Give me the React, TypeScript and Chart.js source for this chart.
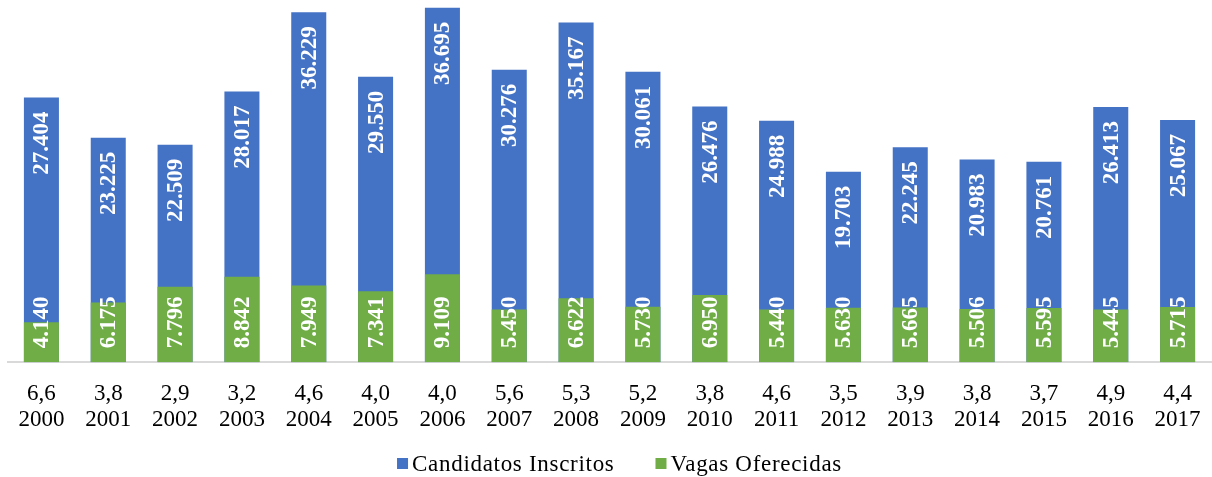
import React, { useEffect, useRef } from "react";
import { Chart, registerables } from "chart.js";

Chart.register(...registerables);

const years = ["2000", "2001", "2002", "2003", "2004", "2005", "2006", "2007", "2008", "2009", "2010", "2011", "2012", "2013", "2014", "2015", "2016", "2017"];
const ratios = ["6,6", "3,8", "2,9", "3,2", "4,6", "4,0", "4,0", "5,6", "5,3", "5,2", "3,8", "4,6", "3,5", "3,9", "3,8", "3,7", "4,9", "4,4"];
const candidatos = [27404, 23225, 22509, 28017, 36229, 29550, 36695, 30276, 35167, 30061, 26476, 24988, 19703, 22245, 20983, 20761, 26413, 25067];
const vagas = [4140, 6175, 7796, 8842, 7949, 7341, 9109, 5450, 6622, 5730, 6950, 5440, 5630, 5665, 5506, 5595, 5445, 5715];
const seriesNames = ["Candidatos Inscritos", "Vagas Oferecidas"];
const seriesColors = ["#4472C4", "#70AD47"];

const SERIF = "'Liberation Serif', 'Times New Roman', serif";

const fmt = (n: number) => String(n).replace(/\B(?=(\d{3})+(?!\d))/g, ".");

const barLabels = {
  id: "barLabels",
  afterDatasetsDraw(chart: any) {
    const ctx = chart.ctx;
    ctx.save();
    ctx.font = `bold 23px ${SERIF}`;
    ctx.fillStyle = "#ffffff";
    ctx.textBaseline = "middle";
    chart.data.datasets.forEach((ds: any, di: number) => {
      const meta = chart.getDatasetMeta(di);
      meta.data.forEach((el: any, i: number) => {
        const { x, y, base } = el.getProps(["x", "y", "base"], true);
        ctx.save();
        if (di === 0) {
          ctx.translate(x + 1, y + 14);
          ctx.rotate(-Math.PI / 2);
          ctx.textAlign = "right";
        } else {
          ctx.translate(x + 1, base - 14);
          ctx.rotate(-Math.PI / 2);
          ctx.textAlign = "left";
        }
        ctx.fillText(fmt(ds.data[i]), 0, 0);
        ctx.restore();
      });
    });
    ctx.restore();
  },
};

const legendPlugin = {
  id: "bottomLegend",
  afterDraw(chart: any) {
    const ctx = chart.ctx;
    ctx.save();
    ctx.font = `23px ${SERIF}`;
    try { (ctx as any).letterSpacing = "0.7px"; } catch (e) {}
    ctx.textBaseline = "middle";
    ctx.textAlign = "left";
    const box = 11;
    const gapText = 4;
    const gapItem = 41;
    const widths = seriesNames.map((n) => ctx.measureText(n).width);
    const total = widths.reduce((a, w) => a + box + gapText + w, 0) + gapItem * (seriesNames.length - 1);
    const centerX = (chart.chartArea.left + chart.chartArea.right) / 2 + 10;
    const y = chart.height - 13.5;
    let x = centerX - total / 2;
    seriesNames.forEach((name, i) => {
      ctx.fillStyle = seriesColors[i];
      ctx.fillRect(x, y - box / 2, box, box);
      x += box + gapText;
      ctx.fillStyle = "#000000";
      ctx.fillText(name, x, y + 1);
      x += widths[i] + gapItem;
    });
    ctx.restore();
  },
};

export default function App() {
  const ref = useRef<HTMLCanvasElement | null>(null);

  useEffect(() => {
    if (!ref.current) return;
    const chart = new Chart(ref.current, {
      type: "bar",
      data: {
        labels: years,
        datasets: [
          {
            label: seriesNames[0],
            data: candidatos,
            backgroundColor: seriesColors[0],
            order: 1,
            grouped: false,
            barPercentage: 0.524,
            categoryPercentage: 1,
          },
          {
            label: seriesNames[1],
            data: vagas,
            backgroundColor: seriesColors[1],
            order: 0,
            grouped: false,
            barPercentage: 0.524,
            categoryPercentage: 1,
          },
        ] as any,
      },
      options: {
        responsive: false,
        animation: false,
        devicePixelRatio: 1,
        layout: { padding: { left: 8, right: 1, top: 0, bottom: 25.5 } },
        plugins: {
          legend: { display: false },
          tooltip: { enabled: false },
        },
        scales: {
          x: {
            grid: { display: false, drawTicks: false },
            border: { display: true, color: "#d9d9d9", width: 2 },
            afterFit: (scale: any) => {
              scale.paddingLeft = 0;
              scale.paddingRight = 0;
            },
            ticks: {
              padding: 18,
              color: "#000000",
              font: { family: SERIF, size: 23, lineHeight: 1.16 },
              maxRotation: 0,
              autoSkip: false,
              callback: (_v: any, i: number) => [ratios[i], years[i]],
            },
          },
          y: {
            display: false,
            min: 0,
            max: 37500,
          },
        },
      },
      plugins: [barLabels, legendPlugin],
    });
    return () => chart.destroy();
  }, []);

  return (
    <div style={{ position: "absolute", left: 0, top: 0, width: 1212, height: 477, background: "#fff" }}>
      <canvas ref={ref} width={1212} height={477} style={{ display: "block", width: 1212, height: 477 }} />
    </div>
  );
}
